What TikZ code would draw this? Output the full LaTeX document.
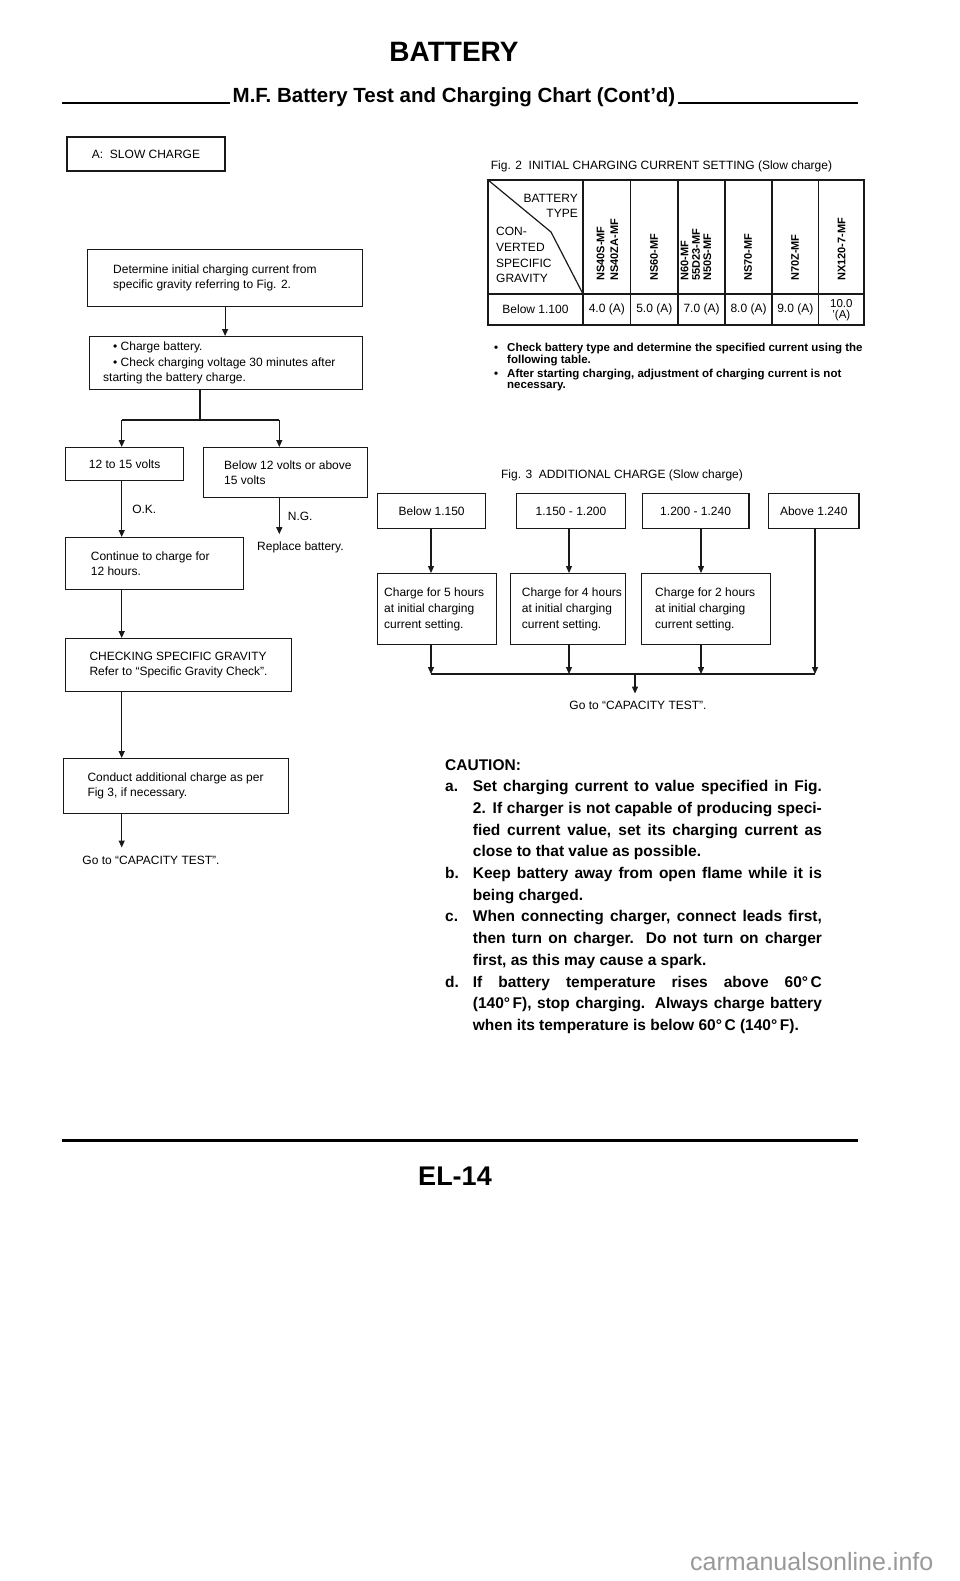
\documentclass[tikz,border=0pt]{standalone}
\usepackage{fontspec}
\setmainfont{Liberation Sans}
\usetikzlibrary{arrows.meta, calc, positioning}
\colorlet{lineColor}{black!90}
\colorlet{markColor}{black!40}
\newcommand{\chartfont}{\fontsize{12}{15.5}\selectfont}
\newcommand{\notefont}{\bfseries\fontsize{11.5}{11.5}\selectfont}
\newcommand{\cautionfont}{\bfseries\fontsize{15.5}{21.7}\selectfont}
\tikzstyle{frame}=[draw=lineColor, line width=1.2pt, anchor=north west, inner sep=0pt, font=\chartfont]
\tikzstyle{txt}=[align=left, inner sep=0pt, anchor=west, font=\chartfont]
\tikzstyle{colhead}=[rotate=90, anchor=west, align=left, inner sep=0pt, font=\bfseries\fontsize{11}{13.7}\selectfont]
\tikzstyle{arrow}=[-{Triangle[length=7pt,width=6pt]}, line width=1.2pt, draw=lineColor]
\tikzstyle{line}=[line width=1.2pt, draw=lineColor]

\begin{document}
\begin{tikzpicture}[x=1pt, y=-1pt]
  \path[use as bounding box, fill=white] (0,0) rectangle (960,1581);

  % heading
  \node[font=\bfseries\fontsize{28}{30}\selectfont] (title) at (454,52) {BATTERY};
  \node[font=\bfseries\fontsize{20.5}{22}\selectfont, anchor=base, inner sep=2pt] (subtitle) at (454,103) {M.F. Battery Test and Charging Chart (Cont’d)};
  \draw[line width=2pt] (62,103) -- (subtitle.base west);
  \draw[line width=2pt] (subtitle.base east) -- (858,103);

  % slow charge chart
  \node[frame, line width=2pt, minimum width=158pt, minimum height=34pt] (slow) at (66,136) {A:\ \ SLOW CHARGE};
  \coordinate (okx) at (121.7,0);
  \coordinate (ngx) at (279.3,0);
  \coordinate (split) at (200,420);

  \node[frame, minimum width=275pt, minimum height=57pt] (det) at (87,249) {};
  \node[txt] (detText) at ([xshift=26pt]det.west) {Determine initial charging current from\\specific gravity referring to Fig. 2.};
  \node[frame, minimum width=273pt, minimum height=53pt] (chg) at (89,336) {};
  \node[txt] (chgText) at ([xshift=14pt]chg.west) {\hspace*{10pt}\textbullet\ Charge battery.\\\hspace*{10pt}\textbullet\ Check charging voltage 30 minutes after\\starting the battery charge.};
  \node[frame, minimum width=118pt, minimum height=33pt] (v1215) at (65,447) {12 to 15 volts};
  \node[frame, minimum width=164pt, minimum height=50pt] (vbad) at (203,447) {};
  \node[txt] (vbadText) at ([xshift=21pt]vbad.west) {Below 12 volts or above\\15 volts};
  \node[txt, inner ysep=7pt] (rep) at (257,547) {Replace battery.};
  \node[frame, minimum width=178pt, minimum height=52pt] (cont) at (65,537) {};
  \node[txt] (contText) at ([xshift=25.7pt]cont.west) {Continue to charge for\\12 hours.};
  \node[frame, minimum width=226pt, minimum height=53pt] (spg) at (65,638) {};
  \node[txt] (spgText) at ([xshift=24.3pt]spg.west) {CHECKING SPECIFIC GRAVITY\\Refer to “Specific Gravity Check”.};
  \node[frame, minimum width=225pt, minimum height=55pt] (addl) at (63,758) {};
  \node[txt] (addlText) at ([xshift=24.3pt]addl.west) {Conduct additional charge as per\\Fig 3, if necessary.};
  \node[txt, anchor=center, inner ysep=8pt] (goto1) at (151,860) {Go to “CAPACITY TEST”.};

  \draw[arrow] (det.south) -- (det.south |- chg.north);
  \draw[line] (split |- chg.south) -- (split);
  \draw[line] (okx |- split) -- (ngx |- split);
  \draw[arrow] (okx |- split) -- (okx |- v1215.north);
  \draw[arrow] (ngx |- split) -- (ngx |- vbad.north);
  \draw[arrow] (okx |- v1215.south) -- node[txt, right=10pt] (ok) {O.K.} (okx |- cont.north);
  \draw[arrow] (ngx |- vbad.south) -- node[txt, right=8pt] (ng) {N.G.} (ngx |- rep.north);
  \draw[arrow] (okx |- cont.south) -- (okx |- spg.north);
  \draw[arrow] (okx |- spg.south) -- (okx |- addl.north);
  \draw[arrow] (okx |- addl.south) -- (okx |- goto1.north);

  % fig. 2 table
  \node[txt] (fig2) at (490.7,166) {Fig. 2\ \ INITIAL CHARGING CURRENT SETTING (Slow charge)};
  \draw[line] (488,180) rectangle (864,325);
  \draw[line] (488,294) -- (864,294);
  \foreach \x in {583,630.5,678,725,772,818.5}
    \draw[line] (\x,180) -- (\x,325);
  \draw[line] (488,180) -- (551,232) -- (583,294);
  \node[txt, anchor=east, align=right] (typeHead) at (578,206) {BATTERY\\TYPE};
  \node[txt, font=\fontsize{12}{15.9}\selectfont] (gravHead) at (496,255) {CON-\\VERTED\\SPECIFIC\\GRAVITY};
  \node[colhead] (bt1) at (607.5,281) {NS40S-MF\\NS40ZA-MF};
  \node[colhead] (bt2) at (654,281) {NS60-MF};
  \node[colhead, font=\bfseries\fontsize{11}{11.3}\selectfont] (bt3) at (696,281) {N60-MF\\55D23-MF\\N50S-MF};
  \node[colhead] (bt4) at (748,281) {NS70-MF};
  \node[colhead] (bt5) at (795,281) {N70Z-MF};
  \node[colhead] (bt6) at (841.5,281) {NX120-7-MF};
  \node[font=\chartfont, inner sep=0pt] (below) at (535.5,309.5) {Below 1.100};
  \foreach \x/\v [count=\i] in {606.8/4.0, 654.3/5.0, 701.5/7.0, 748.5/8.0, 795.3/9.0}
    \node[font=\chartfont, inner sep=0pt] (amp\i) at (\x,309.5) {\v\ (A)};
  \node[align=center, inner sep=0pt, font=\fontsize{11.5}{10.5}\selectfont] (amp6) at (841.3,310) {10.0\\’(A)};

  \node[txt, anchor=north west, font=\notefont] (notes) at (507,343) {\llap{\textbullet\hspace{9pt}}Check battery type and determine the specified current using the\\following table.\\[2.5pt]\llap{\textbullet\hspace{9pt}}After starting charging, adjustment of charging current is not\\necessary.};

  % fig. 3 additional charge
  \node[txt, anchor=center] (fig3) at (622,475) {Fig. 3\ \ ADDITIONAL CHARGE (Slow charge)};
  \coordinate (c1) at (431,0);
  \coordinate (c2) at (569,0);
  \coordinate (c3) at (701,0);
  \coordinate (c4) at (815,0);
  \coordinate (join) at (635,674);
  \node[frame, minimum width=108pt, minimum height=35pt] (sg1) at (377,493) {Below 1.150};
  \node[frame, minimum width=109.3pt, minimum height=35pt] (sg2) at (515.7,493) {1.150 - 1.200};
  \node[frame, minimum width=106.6pt, minimum height=35pt] (sg3) at (641.7,493) {1.200 - 1.240};
  \node[frame, minimum width=90.3pt, minimum height=35pt] (sg4) at (768,493) {Above 1.240};
  \node[frame, minimum width=119pt, minimum height=71pt] (ch1) at (377,573) {};
  \node[txt, font=\fontsize{12}{16}\selectfont] (ch1Text) at ([xshift=7pt]ch1.west) {Charge for 5 hours\\at initial charging\\current setting.};
  \node[frame, minimum width=115pt, minimum height=71pt] (ch2) at (510,573) {};
  \node[txt, font=\fontsize{12}{16}\selectfont] (ch2Text) at ([xshift=11.7pt]ch2.west) {Charge for 4 hours\\at initial charging\\current setting.};
  \node[frame, minimum width=129.3pt, minimum height=71pt] (ch3) at (640.7,573) {};
  \node[txt, font=\fontsize{12}{16}\selectfont] (ch3Text) at ([xshift=14.3pt]ch3.west) {Charge for 2 hours\\at initial charging\\current setting.};
  \node[txt, anchor=center, inner ysep=7pt] (goto2) at (638,705) {Go to “CAPACITY TEST”.};

  \draw[arrow] (c1 |- sg1.south) -- (c1 |- ch1.north);
  \draw[arrow] (c2 |- sg2.south) -- (c2 |- ch2.north);
  \draw[arrow] (c3 |- sg3.south) -- (c3 |- ch3.north);
  \draw[arrow] (c1 |- ch1.south) -- (c1 |- join);
  \draw[arrow] (c2 |- ch2.south) -- (c2 |- join);
  \draw[arrow] (c3 |- ch3.south) -- (c3 |- join);
  \draw[arrow] (c4 |- sg4.south) -- (c4 |- join);
  \draw[line] (c1 |- join) -- (c4 |- join);
  \draw[arrow] (join) -- (join |- goto2.north);

  % caution
  \node[anchor=north west, text width=376.7pt, align=justify, inner sep=0pt, font=\cautionfont] (caution) at (445,759) {\parindent=0pt\tolerance=9999\hyphenpenalty=10000
    CAUTION:\par
    \hangindent=27.7pt\hangafter=1\makebox[27.7pt][l]{a.}Set charging current to value specified in Fig.\linebreak 2. If charger is not capable of producing speci-\linebreak fied current value, set its charging current as\linebreak close to that value as possible.\par
    \hangindent=27.7pt\hangafter=1\makebox[27.7pt][l]{b.}Keep battery away from open flame while it is\linebreak being charged.\par
    \hangindent=27.7pt\hangafter=1\makebox[27.7pt][l]{c.}When connecting charger, connect leads first,\linebreak then turn on charger. Do not turn on charger\linebreak first, as this may cause a spark.\par
    \hangindent=27.7pt\hangafter=1\makebox[27.7pt][l]{d.}If battery temperature rises above 60°\,C\linebreak (140°\,F), stop charging. Always charge battery\linebreak when its temperature is below 60°\,C (140°\,F).\par};

  % footer
  \draw[line width=3pt] (62,1140) -- (858,1140);
  \node[font=\bfseries\fontsize{27}{29}\selectfont] (pageNo) at (455,1176) {EL-14};
  \node[font=\fontsize{25}{27}\selectfont, text=markColor] (mark) at (811.7,1561.7) {carmanualsonline.info};
\end{tikzpicture}
\end{document}
